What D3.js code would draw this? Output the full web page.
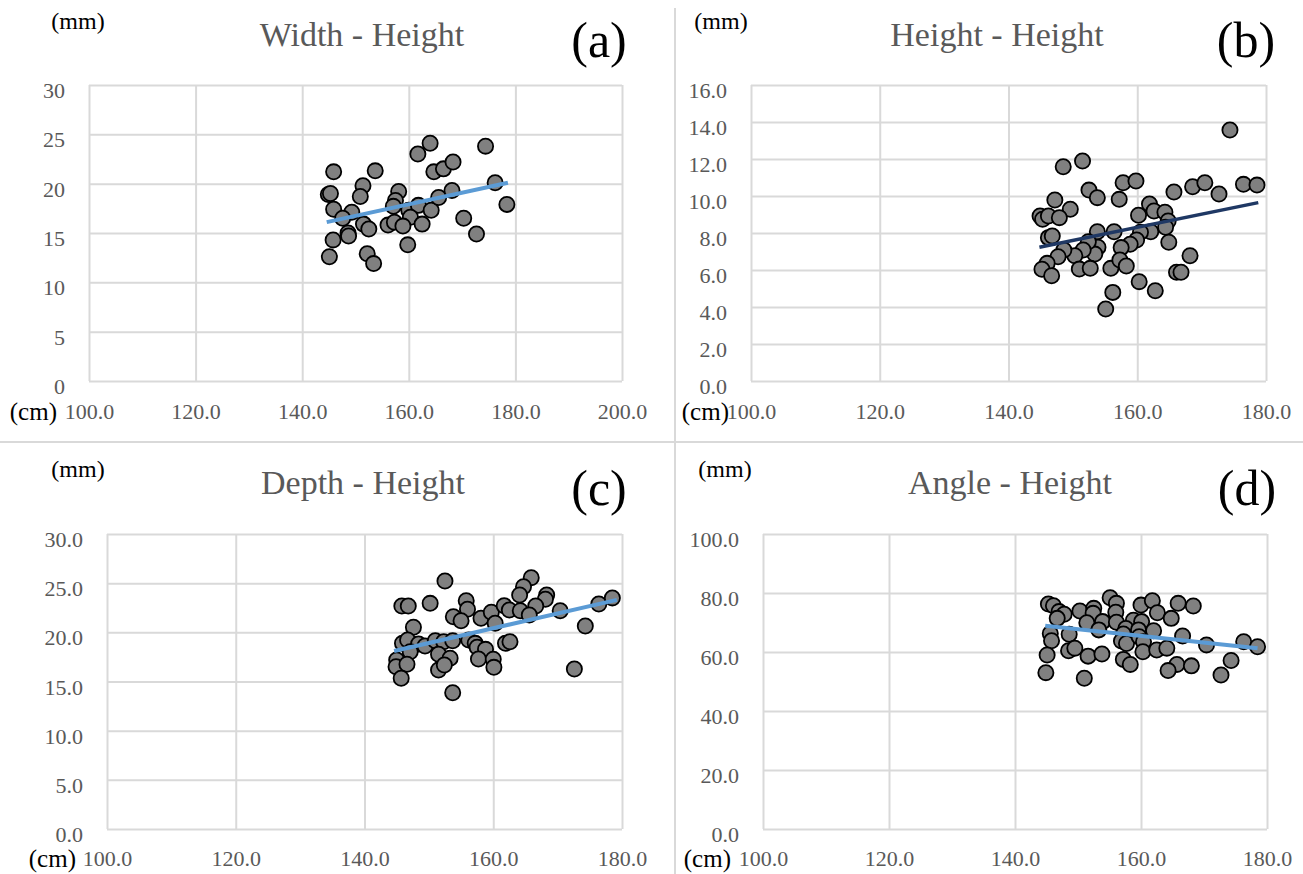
<!DOCTYPE html>
<html>
<head>
<meta charset="utf-8">
<script src="https://cdn.jsdelivr.net/npm/d3@7"></script>
<style>
  body { margin: 0; background: #fff; }
  svg { display: block; }
</style>
</head>
<body>
<svg id="chart" width="1303" height="874"></svg>
<script>
// values, [height cm, measure]
const widthPts = [
  [145.9, 21.2], [153.7, 21.3], [161.7, 23.0], [164.0, 24.1], [174.4, 23.8], [164.7, 21.2],
  [166.5, 21.5], [168.3, 22.2], [144.9, 18.9], [145.3, 19.0], [151.4, 19.8], [150.9, 18.7],
  [145.9, 17.4], [149.3, 17.1], [147.6, 16.5], [158.1, 19.2], [157.5, 18.3], [157.1, 17.7],
  [160.0, 17.3], [161.8, 17.8], [160.3, 16.6], [164.2, 17.3], [165.6, 18.6], [168.1, 19.3],
  [176.2, 20.1], [178.4, 17.9], [170.3, 16.5], [172.7, 14.9], [151.5, 15.9], [152.5, 15.4],
  [156.1, 15.8], [157.3, 16.1], [158.9, 15.7], [162.5, 15.9], [148.6, 15.0], [148.7, 14.7],
  [145.8, 14.3], [159.8, 13.8], [145.1, 12.6], [152.2, 12.9], [153.4, 11.9]
];
const heightPts = [
  [174.4, 13.57], [148.5, 11.58], [151.5, 11.89], [157.8, 10.72], [159.8, 10.81], [152.5, 10.32],
  [153.8, 9.91], [157.2, 9.82], [147.2, 9.78], [165.7, 10.22], [168.6, 10.5], [170.5, 10.72],
  [172.7, 10.11], [176.5, 10.63], [178.6, 10.59], [149.6, 9.28], [144.9, 8.92], [145.3, 8.74],
  [146.2, 8.92], [147.9, 8.83], [160.2, 8.96], [161.9, 9.57], [162.6, 9.19], [164.3, 9.12],
  [164.8, 8.65], [164.4, 8.31], [162.1, 8.07], [160.5, 8.04], [159.9, 7.62], [158.9, 7.39],
  [157.5, 7.21], [156.4, 8.07], [153.8, 8.07], [153.9, 7.23], [153.4, 6.86], [152.4, 7.53],
  [151.6, 7.08], [150.3, 6.77], [148.6, 7.08], [147.7, 6.72], [146.2, 7.75], [146.8, 7.84],
  [146.0, 6.36], [145.2, 6.04], [146.7, 5.69], [151.0, 6.05], [152.7, 6.09], [155.9, 6.09],
  [157.3, 6.54], [158.3, 6.22], [164.9, 7.5], [168.2, 6.77], [166.1, 5.88], [166.8, 5.88],
  [160.3, 5.37], [162.8, 4.88], [156.2, 4.79], [155.1, 3.89]
];
const depthPts = [
  [165.9, 25.56], [164.7, 24.64], [164.1, 23.8], [168.3, 23.8], [168.1, 23.36], [166.6, 22.68],
  [152.5, 25.22], [145.8, 22.68], [146.8, 22.68], [150.2, 22.95], [155.8, 23.22], [156.0, 22.34],
  [153.8, 21.59], [155.0, 21.18], [158.1, 21.43], [159.7, 22.04], [161.7, 22.71], [162.5, 22.27],
  [164.2, 22.2], [165.6, 21.76], [160.3, 20.92], [170.4, 22.2], [176.4, 22.88], [178.5, 23.5],
  [174.3, 20.64], [147.6, 20.51], [145.9, 18.88], [146.7, 19.22], [148.4, 18.81], [149.4, 18.61],
  [151.0, 19.15], [152.3, 19.05], [153.7, 19.15], [156.2, 19.22], [157.2, 18.88], [157.5, 18.48],
  [147.1, 18.03], [161.9, 18.88], [162.6, 19.05], [158.8, 18.27], [151.5, 17.77], [153.3, 17.36],
  [157.7, 17.29], [160.0, 17.26], [160.1, 16.44], [145.0, 17.19], [144.9, 16.51], [146.6, 16.75],
  [151.5, 16.17], [152.4, 16.68], [145.7, 15.33], [172.6, 16.27], [153.7, 13.86]
];
const anglePts = [
  [145.3, 76.3], [146.1, 75.7], [147.0, 73.7], [147.8, 72.8], [146.7, 71.4], [150.3, 73.9],
  [152.5, 74.8], [152.4, 73.1], [155.1, 78.4], [156.1, 76.5], [156.0, 73.5], [160.0, 75.9],
  [161.8, 77.4], [162.6, 73.3], [165.9, 76.5], [168.3, 75.6], [164.8, 71.4], [151.4, 69.9],
  [153.9, 70.3], [153.3, 67.5], [156.1, 70.1], [158.8, 70.8], [160.1, 70.3], [157.6, 68.0],
  [159.6, 67.5], [162.0, 67.2], [145.6, 66.3], [145.8, 63.8], [148.6, 66.0], [157.2, 66.1],
  [156.9, 63.7], [157.7, 62.9], [159.7, 65.2], [160.4, 63.5], [166.6, 65.4], [170.4, 62.4],
  [176.3, 63.5], [178.5, 61.8], [145.1, 59.0], [148.5, 60.4], [149.5, 61.3], [151.6, 58.6],
  [153.8, 59.3], [160.3, 60.1], [162.5, 60.7], [164.1, 61.3], [157.2, 57.5], [158.3, 55.8],
  [165.7, 55.8], [164.3, 53.7], [168.0, 55.3], [174.3, 57.1], [144.9, 53.0], [151.0, 51.1],
  [172.7, 52.2]
];

// linear trend lines, two end points each
const widthTrend = [[144.6, 16.1], [178.6, 20.1]];
const heightTrend = [[144.8, 7.23], [178.8, 9.64]];
const depthTrend = [[144.6, 18.1], [179.2, 23.3]];
const angleTrend = [[144.8, 68.9], [178.5, 61.3]];

// axis ticks
const xTicksWide = [100, 120, 140, 160, 180, 200];
const xTicks = [100, 120, 140, 160, 180];
const widthTicks = [0, 5, 10, 15, 20, 25, 30];
const heightTicks = [0, 2, 4, 6, 8, 10, 12, 14, 16];
const depthTicks = [0, 5, 10, 15, 20, 25, 30];
const angleTicks = [0, 20, 40, 60, 80, 100];

const titles = ["Width - Height", "Height - Height", "Depth - Height", "Angle - Height"];
const tags = ["(a)", "(b)", "(c)", "(d)"];

const panels = [
  {pts: widthPts, trend: widthTrend, xt: xTicksWide, yt: widthTicks, yf: d3.format("d"),
   box: [89, 85, 622, 381], color: "#5b9bd5", titleX: 362, titleY: 34, tagX: 599, mmX: 78, cmEnd: 57, cmOff: 30},
  {pts: heightPts, trend: heightTrend, xt: xTicks, yt: heightTicks, yf: d3.format(".1f"),
   box: [751, 85, 1266, 381], color: "#1f3864", titleX: 997, titleY: 34, tagX: 1246, mmX: 721, cmEnd: 729, cmOff: 30},
  {pts: depthPts, trend: depthTrend, xt: xTicks, yt: depthTicks, yf: d3.format(".1f"),
   box: [107, 534, 622, 829], color: "#5b9bd5", titleX: 363, titleY: 482, tagX: 599, mmX: 78, cmEnd: 76, cmOff: 29},
  {pts: anglePts, trend: angleTrend, xt: xTicks, yt: angleTicks, yf: d3.format(".1f"),
   box: [763, 534, 1267, 829], color: "#5b9bd5", titleX: 1010, titleY: 482, tagX: 1247, mmX: 725, cmEnd: 731, cmOff: 29}
];

const svg = d3.select("#chart");
const serif = "'Liberation Serif', 'Times New Roman', serif";
const gridColor = "#d9d9d9";

svg.append("rect").attr("width", 1303).attr("height", 874).attr("fill", "#fff");

// panel dividers
svg.append("line").attr("x1", 675).attr("x2", 675).attr("y1", 8).attr("y2", 874)
  .attr("stroke", gridColor).attr("stroke-width", 2);
svg.append("line").attr("x1", 0).attr("x2", 1303).attr("y1", 442).attr("y2", 442)
  .attr("stroke", gridColor).attr("stroke-width", 2);

panels.forEach((p, i) => {
  const [x0, y0, x1, y1] = p.box;
  const w = x1 - x0, h = y1 - y0;
  const x = d3.scaleLinear().domain(d3.extent(p.xt)).range([x0, x1]);
  const y = d3.scaleLinear().domain(d3.extent(p.yt)).range([y1, y0]);
  const g = svg.append("g");

  // horizontal gridlines + y labels
  const ya = g.append("g").attr("transform", `translate(${x0},0)`)
    .call(d3.axisLeft(y).tickValues(p.yt).tickFormat(p.yf).tickSize(-w).tickPadding(24));
  // vertical gridlines + x labels
  const xa = g.append("g").attr("transform", `translate(0,${y1})`)
    .call(d3.axisBottom(x).tickValues(p.xt).tickFormat(d3.format(".1f")).tickSize(-h));

  [ya, xa].forEach(a => {
    a.select(".domain").remove();
    a.selectAll("line").attr("stroke", gridColor).attr("stroke-width", 2);
    a.selectAll("text").attr("fill", "#595959").style("font-family", serif).style("font-size", "22px");
  });
  ya.selectAll("text").attr("dy", null).attr("dominant-baseline", "central")
    .attr("transform", "translate(0,5)");
  xa.selectAll("text").attr("dy", null).attr("y", p.cmOff).attr("dominant-baseline", "central");

  // points
  g.append("g").selectAll("circle").data(p.pts).join("circle")
    .attr("cx", d => x(d[0])).attr("cy", d => y(d[1])).attr("r", 7.6)
    .attr("fill", "#808080").attr("stroke", "#000").attr("stroke-width", 1.8);

  // trend
  g.append("path").datum(p.trend)
    .attr("d", d3.line().x(d => x(d[0])).y(d => y(d[1])))
    .attr("fill", "none").attr("stroke", p.color).attr("stroke-width", i === 1 ? 3.5 : 4);

  // texts
  g.append("text").attr("x", p.titleX).attr("y", p.titleY).attr("text-anchor", "middle")
    .attr("dominant-baseline", "central").attr("fill", "#595959")
    .style("font-family", serif).style("font-size", "34px").text(titles[i]);
  g.append("text").attr("x", p.tagX).attr("y", p.titleY + 6).attr("text-anchor", "middle")
    .attr("dominant-baseline", "central").attr("fill", "#000")
    .style("font-family", serif).style("font-size", "50px").text(tags[i]);
  g.append("text").attr("x", p.mmX).attr("y", p.titleY - 13).attr("text-anchor", "middle")
    .attr("dominant-baseline", "central").attr("fill", "#000")
    .style("font-family", serif).style("font-size", "24px").text("(mm)");
  g.append("text").attr("x", p.cmEnd).attr("y", y1 + p.cmOff).attr("text-anchor", "end")
    .attr("dominant-baseline", "central").attr("fill", "#000")
    .style("font-family", serif).style("font-size", "25px").text("(cm)");
});
</script>
</body>
</html>
